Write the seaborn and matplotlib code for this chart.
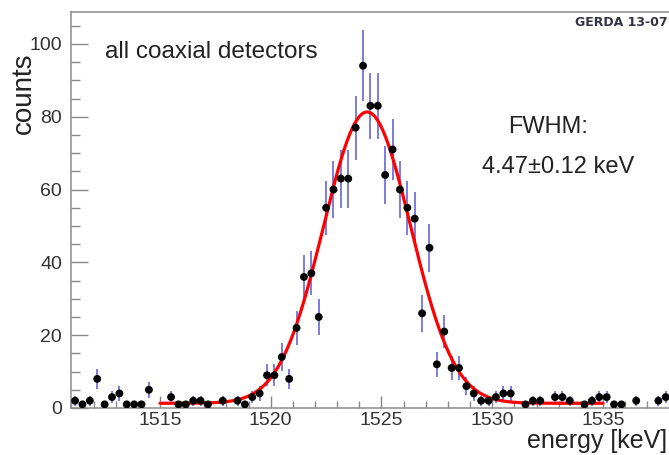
import numpy as np
import pandas as pd
import matplotlib
matplotlib.use("Agg")
import matplotlib.pyplot as plt
import seaborn as sns

## Data: 1/3 keV bins between 1511 and 1538 keV, all coaxial detectors
bin_lo = 1511.0
bin_width = 1.0 / 3.0
counts = [
    2, 1, 2, 8, 1, 3, 4, 1, 1, 1,
    5, 0, 0, 3, 1, 1, 2, 2, 1, 0,
    2, 0, 2, 1, 3, 4, 9, 9, 14, 8,
    22, 36, 37, 25, 55, 60, 63, 63, 77, 94,
    83, 83, 64, 71, 60, 55, 52, 26, 44, 12,
    21, 11, 11, 6, 4, 2, 2, 3, 4, 4,
    0, 1, 2, 2, 0, 3, 3, 2, 0, 1,
    2, 3, 3, 1, 1, 0, 2, 0, 0, 2,
    3,
]
energy = [bin_lo + bin_width * (i + 0.5) for i in range(len(counts))]

# gaussian + flat background fit
fit_mean = 1524.35
fit_sigma = 1.97
fit_amp = 80.0
fit_bkg = 1.3
fit_lo, fit_hi = 1515.0, 1535.0

df = pd.DataFrame({"energy": energy, "counts": counts})
df = df[df["counts"] > 0]
df["err"] = np.sqrt(df["counts"])

fit_x = np.linspace(fit_lo, fit_hi, 400)
fit_y = fit_bkg + fit_amp * np.exp(-0.5 * ((fit_x - fit_mean) / fit_sigma) ** 2)

## Plot
sns.set_style("ticks")
plt.rcParams["font.family"] = ["Liberation Sans", "DejaVu Sans"]

fig = plt.figure(figsize=(6.69, 4.55), dpi=100)
ax = fig.add_axes([70.5 / 669, 47 / 455, 598.5 / 669, 396.5 / 455])

ax.errorbar(df["energy"], df["counts"], yerr=df["err"], fmt="none",
            ecolor="#7c7ce0", elinewidth=1.4, capsize=0, zorder=2)
sns.lineplot(x=fit_x, y=fit_y, color="red", linewidth=2.3, ax=ax, zorder=3)
sns.scatterplot(data=df, x="energy", y="counts", color="black", s=32,
                edgecolor="none", ax=ax, zorder=4)

ax.set_xlim(1510.96, 1537.98)
ax.set_ylim(0, 108.9)
ax.set_xticks([1515, 1520, 1525, 1530, 1535])
ax.set_xticks(np.arange(1511, 1538), minor=True)
ax.set_yticks([0, 20, 40, 60, 80, 100])
ax.set_yticks(np.arange(0, 106, 5), minor=True)
ax.set_xlabel("")
ax.set_ylabel("")

ax.tick_params(axis="both", which="both", direction="in", color="#888888",
               width=1.0, labelsize=14, labelcolor="#333333")
ax.tick_params(axis="y", which="major", length=12, pad=6)
ax.tick_params(axis="y", which="minor", length=6.7)
ax.tick_params(axis="x", which="major", length=8.6, pad=3)
ax.tick_params(axis="x", which="minor", length=5)

for side in ["left", "bottom", "top"]:
    ax.spines[side].set_color("#8c8c8c")
    ax.spines[side].set_linewidth(1.1)
ax.spines["right"].set_visible(False)

ax.text(0.058, 0.899, "all coaxial detectors", transform=ax.transAxes,
        fontsize=17.5, color="#222222", va="center", ha="left")
ax.text(0.798, 0.708, "FWHM:", transform=ax.transAxes,
        fontsize=17, color="#222222", va="center", ha="center")
ax.text(0.814, 0.607, "4.47\u00b10.12 keV", transform=ax.transAxes,
        fontsize=17, color="#222222", va="center", ha="center")

fig.text(24 / 669, 1 - 93 / 455, "counts", rotation=90, fontsize=20,
         color="#222222", ha="center", va="center")
fig.text(667 / 669, 1 - 441 / 455, "energy [keV]", fontsize=18,
         color="#222222", ha="right", va="center")
fig.text(668 / 669, 1 - 22 / 455, "GERDA 13-07", fontsize=9,
         fontweight="bold", color="#333344", ha="right", va="center",
         family=["Liberation Sans Narrow", "DejaVu Sans"])

fig.savefig("out.png", dpi=100)
